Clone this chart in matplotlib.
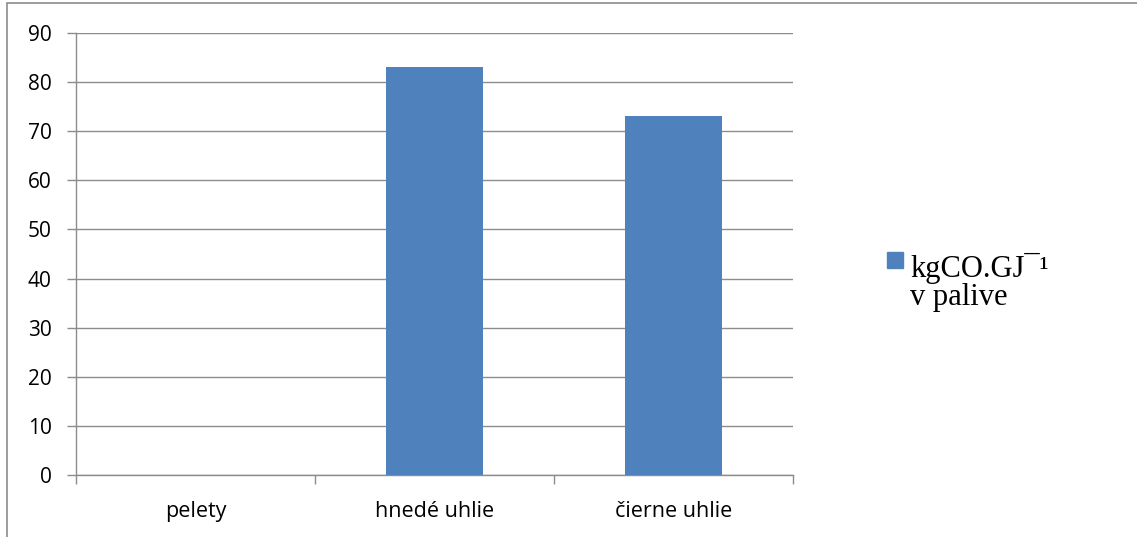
import matplotlib
matplotlib.use("Agg")
import matplotlib.pyplot as plt
from matplotlib.patches import Rectangle

categories = ["pelety", "hnedé uhlie", "čierne uhlie"]
values = [0, 83, 73]
yticks = [0, 10, 20, 30, 40, 50, 60, 70, 80, 90]
legend_lines = ["kgCO.GJ\u00af\u00b9", "v palive"]

W, H = 1137, 537
fig = plt.figure(figsize=(W / 100, H / 100), dpi=100)
fig.patch.set_facecolor("white")

# outer chart frame
frame = Rectangle((7 / W, -0.01), 1.2, 1 - 3 / H + 0.01, transform=fig.transFigure,
                  fill=False, edgecolor="#8c8c8c", linewidth=1.2)
fig.add_artist(frame)

left, right, top, bottom = 76, 793, 33, 475
ax = fig.add_axes([left / W, 1 - bottom / H, (right - left) / W, (bottom - top) / H])

grid_c = "#8c8c8c"
x = list(range(len(categories)))
ax.bar(x, values, width=0.405, color="#4f81bd", zorder=3)

ax.set_xlim(-0.5, len(categories) - 0.5)
ax.set_ylim(0, 90)
ax.set_yticks(yticks)
ax.yaxis.grid(True, color=grid_c, linewidth=1.0, zorder=0)
ax.set_axisbelow(True)

for s in ["top", "right"]:
    ax.spines[s].set_visible(False)
for s in ["left", "bottom"]:
    ax.spines[s].set_color(grid_c)
    ax.spines[s].set_linewidth(1.0)

ax.set_xticks(x)
ax.set_xticklabels(categories, fontsize=15.5, family="Open Sans")
ax.tick_params(axis="x", length=0, pad=19)
ax.set_xticks([-0.5, 0.5, 1.5, 2.5], minor=True)
ax.tick_params(axis="x", which="minor", length=6.5, color=grid_c, width=1.0)
ax.tick_params(axis="y", length=6.5, color=grid_c, width=1.0, pad=11, labelsize=15)
for lab in ax.get_yticklabels():
    lab.set_family("Open Sans")

# legend
fig.add_artist(Rectangle((887 / W, 1 - 268 / H), 16 / W, 16 / H,
                         transform=fig.transFigure, color="#4f81bd"))
fig.text(910 / W, 1 - 277 / H, legend_lines[0], family="Liberation Serif",
         fontsize=22, va="baseline", ha="left")
fig.text(910 / W, 1 - 305 / H, legend_lines[1], family="Liberation Serif",
         fontsize=22, va="baseline", ha="left")

fig.savefig("out.png", dpi=100, facecolor="white")
